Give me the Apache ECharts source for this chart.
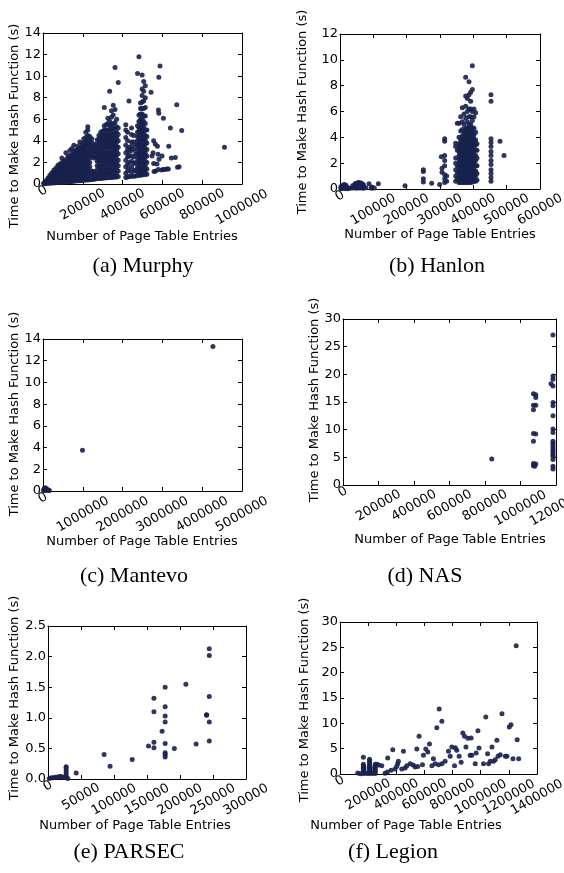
<!DOCTYPE html>
<html>
<head>
<meta charset="utf-8">
<script src="https://cdn.jsdelivr.net/npm/echarts@6/dist/echarts.min.js"></script>
<style>
  html, body { margin: 0; background: #fff; }
  #chart { width: 564px; height: 873px; }
</style>
</head>
<body>
<div id="chart"></div>
<script>
// ---- data, columns are [x, [y, y, ...]] ----
const murphyCols = [
  [5000, [0.02, 0.06, 0.1]],
  [15000, [0.04, 0.12, 0.2, 0.3]],
  [25000, [0.06, 0.16, 0.28, 0.42, 0.55]],
  [35000, [0.08, 0.2, 0.35, 0.5, 0.66, 0.8]],
  [45000, [0.1, 0.24, 0.42, 0.6, 0.76, 0.95, 1.05]],
  [55000, [0.1, 0.28, 0.5, 0.7, 0.9, 1.1, 1.3]],
  [65000, [0.12, 0.32, 0.55, 0.8, 1.0, 1.22, 1.45]],
  [75000, [0.13, 0.36, 0.6, 0.85, 1.1, 1.35, 1.58, 1.75]],
  [85000, [0.14, 0.4, 0.65, 0.9, 1.15, 1.4, 1.65, 1.85]],
  [95000, [0.15, 0.42, 0.7, 0.95, 1.22, 1.5, 1.75, 2.0, 2.4]],
  [105000, [0.17, 0.45, 0.72, 1.0, 1.3, 1.6, 1.9, 2.15]],
  [115000, [0.19, 0.47, 0.76, 1.05, 1.35, 1.65, 1.95, 2.25, 2.9]],
  [125000, [0.2, 0.5, 0.8, 1.1, 1.4, 1.7, 2.0, 2.3, 2.55]],
  [135000, [0.22, 0.52, 0.84, 1.15, 1.46, 1.76, 2.06, 2.36, 2.65, 3.1]],
  [145000, [0.24, 0.55, 0.86, 1.2, 1.5, 1.82, 2.12, 2.42, 2.72, 3.3]],
  [155000, [0.25, 0.57, 0.9, 1.22, 1.55, 1.86, 2.16, 2.46, 2.78, 3.02, 3.6]],
  [165000, [0.27, 0.6, 0.92, 1.26, 1.6, 1.9, 2.22, 2.52, 2.82, 3.12]],
  [175000, [0.29, 0.62, 0.96, 1.3, 1.62, 1.95, 2.28, 2.6, 2.9, 3.2, 3.5]],
  [185000, [0.3, 0.65, 1.0, 1.32, 1.66, 2.0, 2.34, 2.68, 3.0, 3.3, 3.9]],
  [195000, [0.32, 0.66, 1.02, 1.36, 1.7, 2.05, 2.4, 2.74, 3.08, 3.4, 3.7]],
  [205000, [0.34, 0.7, 1.05, 1.4, 1.76, 2.1, 2.46, 2.8, 3.15, 3.5, 3.82, 4.2]],
  [215000, [0.36, 0.72, 1.08, 1.44, 1.8, 2.16, 2.52, 2.9, 3.25, 3.6, 3.95, 4.3, 4.8]],
  [225000, [0.38, 0.75, 1.12, 1.5, 1.86, 2.22, 2.6, 2.98, 3.35, 3.72, 4.1, 4.5, 5.0, 5.3]],
  [235000, [0.4, 0.8, 1.2, 1.6, 2.0, 2.4, 2.8, 3.2, 3.6, 4.0, 4.4]],
  [245000, [0.42, 0.82, 1.2, 2.6, 3.0, 3.4, 3.8, 4.2]],
  [255000, [0.45, 0.85, 1.15, 2.4, 2.8, 3.25, 3.7]],
  [263000, [0.47, 0.9, 2.5, 3.0, 3.5]],
  [272000, [0.5, 0.9, 1.3, 1.7, 2.1, 2.5, 2.9, 3.3, 3.7, 4.1]],
  [281000, [0.5, 0.9, 1.3, 1.7, 2.1, 2.5, 2.9, 3.3, 3.7, 4.1, 4.5]],
  [290000, [0.52, 0.88, 1.25, 1.62, 2.0, 2.4, 2.8, 3.2, 3.6, 4.0, 4.4, 4.8]],
  [299000, [0.54, 0.92, 1.3, 1.7, 2.1, 2.5, 2.9, 3.3, 3.7, 4.1, 4.5, 4.9]],
  [308000, [0.55, 0.95, 1.35, 1.75, 2.15, 2.55, 2.95, 3.35, 3.75, 4.15, 4.55, 5.0, 5.4, 7.1]],
  [317000, [0.57, 0.98, 1.4, 1.8, 2.2, 2.6, 3.0, 3.4, 3.8, 4.2, 4.6, 5.0, 5.5]],
  [326000, [0.58, 1.0, 1.4, 1.8, 2.2, 2.6, 3.0, 3.4, 3.8, 4.2, 4.6, 5.0, 5.6, 6.1]],
  [335000, [0.6, 1.0, 1.4, 1.8, 2.2, 2.6, 3.0, 3.4, 3.8, 4.2, 4.6, 5.0, 5.4, 5.8, 8.6]],
  [344000, [0.6, 1.0, 1.4, 1.8, 2.2, 2.6, 3.0, 3.4, 3.8, 4.2, 4.6, 5.0, 5.4, 6.2, 6.8]],
  [353000, [0.62, 1.02, 1.42, 1.82, 2.22, 2.62, 3.02, 3.42, 3.82, 4.22, 4.62, 5.1, 5.6, 6.4, 7.3]],
  [362000, [0.64, 1.05, 1.45, 1.85, 2.25, 2.65, 3.05, 3.45, 3.85, 4.25, 4.7, 5.2, 5.7, 6.9, 10.8]],
  [370000, [0.66, 1.1, 1.5, 1.9, 2.3, 2.7, 3.1, 3.5, 3.9, 4.3, 4.8, 5.3, 6.0]],
  [378000, [0.7, 1.2, 1.7, 2.2, 2.8, 3.4, 4.0, 4.6, 5.2, 9.4]],
  [416000, [0.6, 1.0, 1.6, 2.2, 2.9, 3.6, 4.3, 5.0, 5.5]],
  [425000, [0.65, 1.2, 1.8, 2.5, 3.2, 4.0, 4.8]],
  [432000, [0.7, 1.4, 2.0, 2.6, 3.0, 3.4, 7.7]],
  [445000, [0.7, 1.1, 1.6, 2.1, 2.6, 3.1, 3.5, 3.9, 4.6, 5.2]],
  [456000, [0.72, 1.3, 1.9, 2.5, 3.2, 3.9, 4.5]],
  [466000, [0.75, 1.2, 2.0, 2.8, 3.6]],
  [475000, [0.8, 1.2, 1.6, 2.0, 2.4, 2.8, 3.2, 3.6, 4.0, 4.4, 4.8, 5.4, 10.25]],
  [482000, [0.8, 1.2, 1.6, 2.0, 2.4, 2.8, 3.2, 3.6, 4.0, 4.4, 4.8, 5.2, 5.8, 6.4, 11.8]],
  [490000, [0.8, 1.2, 1.6, 2.0, 2.4, 2.8, 3.2, 3.6, 4.0, 4.4, 4.8, 5.2, 5.6, 6.0, 6.5, 7.0, 7.5]],
  [498000, [0.85, 1.25, 1.65, 2.05, 2.45, 2.85, 3.25, 3.65, 4.05, 4.45, 4.85, 5.25, 5.65, 6.05, 6.5, 7.0, 7.6, 8.2, 8.8, 10.1]],
  [506000, [0.85, 1.25, 1.65, 2.05, 2.45, 2.85, 3.25, 3.65, 4.05, 4.45, 4.85, 5.3, 5.8, 6.3, 7.0, 7.7, 8.6, 9.5]],
  [514000, [0.9, 1.3, 1.7, 2.1, 2.5, 2.9, 3.3, 3.7, 4.1, 4.5, 5.0, 5.6, 6.3, 7.1, 8.0, 9.1]],
  [522000, [0.9, 1.4, 2.0, 2.6, 3.2, 3.8, 4.4, 5.0]],
  [543000, [8.5]], [548000, [2.6]], [553000, [2.9]], [556000, [1.9, 4.0]],
  [558000, [1.15]], [564000, [3.7]], [566000, [1.2]], [573000, [1.85]],
  [575000, [3.5]], [578000, [2.75]], [580000, [1.35, 6.85]], [582000, [6.55, 9.9]],
  [583000, [2.3]], [588000, [10.95]], [597000, [1.3]], [598000, [2.6]],
  [604000, [1.35]], [605000, [6.1]], [612000, [1.35]], [622000, [1.4]],
  [630000, [1.4]], [632000, [3.5]], [640000, [5.2]], [645000, [2.4]],
  [665000, [2.45]], [672000, [7.35]], [676000, [1.55]], [684000, [1.6]],
  [697000, [4.95]], [912000, [3.4]]
];

const hanlonCols = [
  [3000, [0.02, 0.1, 0.2]], [8000, [0.05, 0.15, 0.3]], [13000, [0.03, 0.12, 0.25, 0.35]],
  [18000, [0.05, 0.2, 0.3]], [23000, [0.02, 0.1]], [30000, [0.05]], [38000, [0.08, 0.25]],
  [45000, [0.1, 0.3, 0.4]], [50000, [0.05, 0.2, 0.35, 0.45]], [55000, [0.1, 0.25, 0.4, 0.5]],
  [60000, [0.08, 0.2, 0.35, 0.48]], [65000, [0.1, 0.3, 0.45]], [70000, [0.05, 0.2, 0.35]],
  [78000, [0.1]], [87000, [0.4]], [95000, [0.05, 0.15]], [103000, [0.08]], [115000, [0.4]],
  [195000, [0.25]],
  [250000, [0.55, 0.8, 1.35, 1.5]], [275000, [0.45]], [299000, [0.35]], [304000, [2.5]],
  [306000, [1.3, 1.6]], [314000, [0.5, 0.8, 1.1, 1.8, 2.2, 2.6, 3.7, 3.9]], [320000, [0.6, 1.0]],
  [347000, [0.6, 1.0, 1.5, 2.0, 2.4, 3.3, 3.55]], [352000, [0.8, 1.3, 1.8, 3.0, 5.1]],
  [357000, [0.5, 0.8, 1.1, 1.4, 1.7, 2.0, 2.3, 2.6, 2.9, 3.2, 3.5, 4.0, 5.1]],
  [362000, [0.5, 0.8, 1.1, 1.4, 1.7, 2.0, 2.3, 2.6, 2.9, 3.2, 3.5, 3.8, 4.5, 5.6]],
  [367000, [0.5, 0.8, 1.1, 1.4, 1.7, 2.0, 2.3, 2.6, 2.9, 3.2, 3.5, 3.8, 4.1, 4.6, 5.2, 6.3]],
  [372000, [0.5, 0.8, 1.1, 1.4, 1.7, 2.0, 2.3, 2.6, 2.9, 3.2, 3.5, 3.8, 4.1, 4.4, 5.0, 5.8]],
  [377000, [0.5, 0.8, 1.1, 1.4, 1.7, 2.0, 2.3, 2.6, 2.9, 3.2, 3.5, 3.8, 4.1, 4.4, 4.7, 5.5, 6.4, 7.2, 8.65]],
  [382000, [0.5, 0.8, 1.1, 1.4, 1.7, 2.0, 2.3, 2.6, 2.9, 3.2, 3.5, 3.8, 4.1, 4.4, 4.7, 5.2, 6.0, 7.0]],
  [387000, [0.5, 0.8, 1.1, 1.4, 1.7, 2.0, 2.3, 2.6, 2.9, 3.2, 3.5, 3.8, 4.1, 4.4, 4.7, 5.0, 5.6, 6.2, 7.3, 8.3]],
  [392000, [0.5, 0.8, 1.1, 1.4, 1.7, 2.0, 2.3, 2.6, 2.9, 3.2, 3.5, 3.8, 4.1, 4.4, 4.7, 5.0, 5.6, 6.2, 6.8, 7.5]],
  [397000, [0.55, 0.85, 1.15, 1.45, 1.75, 2.05, 2.35, 2.65, 2.95, 3.25, 3.55, 3.85, 4.15, 4.45, 4.75, 5.3, 6.0, 7.7, 9.55]],
  [402000, [0.6, 0.9, 1.2, 1.5, 1.8, 2.1, 2.4, 2.7, 3.0, 3.3, 3.6, 3.9, 4.2, 4.7, 5.6, 6.2]],
  [407000, [0.6, 1.0, 1.4, 1.8, 2.2, 2.6, 3.0, 3.4, 3.8, 4.4, 5.9]],
  [411000, [0.7, 1.2, 1.8, 2.4, 3.0, 3.5]],
  [453000, [0.6, 0.9, 1.2, 1.5, 1.9, 2.2, 2.6, 2.9, 3.3, 3.6, 3.9, 6.8, 7.3]],
  [480000, [3.7]], [492000, [2.6]]
];

const mantevoCols = [
  [15000, [0.05]], [25000, [0.15]], [35000, [0.25, 0.05]], [45000, [0.2]], [55000, [0.12, 0.3]],
  [65000, [0.18]], [80000, [0.1, 0.22]], [100000, [0.06]], [120000, [0.12]], [140000, [0.08]],
  [160000, [0.04]], [992000, [3.75]], [4270000, [13.3]]
];

const nasCols = [
  [838000, [4.7]],
  [1073000, [16.5, 14.4, 13.6, 9.3, 7.9, 3.9, 3.5]],
  [1080000, [3.4]],
  [1086000, [16.3, 15.8, 14.4, 9.2, 3.8]],
  [1172000, [18.3]],
  [1183000, [27.1, 19.7, 19.1, 17.9, 14.9, 14.3, 12.5, 10.1, 9.5, 7.9, 7.5, 7.1, 6.7, 6.3, 5.9, 5.5, 5.2, 4.6, 3.4, 2.9]]
];

const parsecCols = [
  [2000, [0.01]], [5000, [0.02]], [8000, [0.02]], [11000, [0.03]], [14000, [0.03]],
  [17000, [0.04]], [20000, [0.04]], [23000, [0.03]], [27500, [0.02, 0.06, 0.1, 0.14, 0.18, 0.2]],
  [30000, [0.01]], [42700, [0.1]], [85000, [0.4]], [94000, [0.21]], [127600, [0.32]],
  [152300, [0.54]], [160500, [1.32, 1.1, 0.6, 0.51]], [172900, [0.78]],
  [177500, [1.5, 1.18, 1.03, 0.93, 0.58, 0.43, 0.4, 0.36]], [191400, [0.5]],
  [208900, [1.55]], [224400, [0.57]], [240300, [1.04, 1.05]],
  [244400, [2.13, 2.02, 1.35, 0.93, 0.62]]
];

const legionCols = [
  [126000, [0.2]], [145000, [0.05]],
  [166000, [0.1, 0.4, 0.7, 1.0, 1.3, 1.6, 1.9, 3.3]], [170000, [0.2, 0.6, 1.0, 1.4]],
  [190000, [0.1]],
  [210000, [0.1, 0.4, 0.7, 1.0, 1.3, 1.6, 1.9, 2.2, 2.6, 2.9]], [215000, [0.3, 0.8, 1.3]],
  [230000, [0.1]], [250000, [0.1, 0.4, 0.7, 1.0, 1.3, 1.6, 1.9]],
  [262000, [1.9]], [275000, [1.8]], [297000, [1.64]], [320000, [0.15]],
  [337000, [0.4]], [339000, [3.16]], [363000, [0.72]], [375000, [4.8]], [391000, [0.99]],
  [403000, [1.5]], [410000, [2.04]], [415000, [2.5]], [439000, [0.99]], [451000, [4.47]],
  [463000, [1.18]], [475000, [1.64]], [498000, [2.04]], [520000, [1.8]], [534000, [1.38]],
  [546000, [4.93]], [552000, [1.5]], [562000, [7.43]], [586000, [1.84]], [593000, [3.68]],
  [610000, [4.93]], [624000, [4.34]], [636000, [5.92]], [653000, [1.64]], [664000, [3.03]],
  [676000, [2.04]], [688000, [9.14]], [700000, [1.84]], [705000, [12.83]], [724000, [10.4, 2.04]],
  [747000, [2.5]], [771000, [4.47]], [783000, [3.49]], [795000, [5.33]], [814000, [1.64]],
  [819000, [5.2]], [830000, [4.67]], [847000, [3.49]], [861000, [2.3]], [873000, [8.1]],
  [885000, [7.43]], [895000, [5.33]], [909000, [7.04]], [925000, [3.68]], [932000, [7.1]],
  [937000, [3.68]], [961000, [2.04]], [968000, [4.14]], [980000, [8.55]], [988000, [5.13]],
  [1020000, [2.04]], [1036000, [11.25]], [1049000, [4.0]], [1056000, [2.04]], [1068000, [2.5]],
  [1080000, [5.33]], [1091000, [2.5]], [1103000, [2.83]], [1115000, [6.65]], [1123000, [3.49]],
  [1139000, [3.82]], [1151000, [11.9]], [1175000, [3.49]], [1186000, [3.49]], [1203000, [9.27]],
  [1215000, [9.73]], [1229000, [3.03]], [1252000, [25.3]], [1259000, [6.78]], [1270000, [3.03]]
];

const captions = ['(a) Murphy', '(b) Hanlon', '(c) Mantevo', '(d) NAS', '(e) PARSEC', '(f) Legion'];
const xTitle = 'Number of Page Table Entries';
const yTitle = 'Time to Make Hash Function (s)';

// ---- layout ----
const FONT = 'DejaVu Sans';
const FS = 13;
const DOT = '#18214c';
const panels = [
  { cols: murphyCols, grid: [43, 33, 199, 151], x: [1000000, 200000], y: [14, 2], yName: [15, 126], xName: [142, 237], cap: [143, 266] },
  { cols: hanlonCols, grid: [340, 34, 200, 155], x: [600000, 100000], y: [12, 2], yName: [303, 112], xName: [440, 235], cap: [437, 266] },
  { cols: mantevoCols, grid: [43, 339, 199, 152], x: [5000000, 1000000], y: [14, 2], yName: [15, 414], xName: [142, 542], cap: [134, 576] },
  { cols: nasCols, grid: [343, 319, 213, 166], x: [1200000, 200000], y: [30, 5], yName: [315, 400], xName: [450, 540], cap: [425, 576] },
  { cols: parsecCols, grid: [48, 626, 198, 153], x: [300000, 50000], y: [2.5, 0.5], yDec: 1, yName: [15, 698], xName: [135, 826], cap: [129, 852] },
  { cols: legionCols, grid: [340, 622, 197, 152], x: [1400000, 200000], y: [30, 5], yName: [305, 700], xName: [406, 826], cap: [393, 852] }
];

// rotated x labels are centred on their tick like matplotlib: longer labels get pushed down
const CHAR_W = 8.27;
const xRich = {};
for (let n = 1; n <= 8; n++) {
  const dy = (n - 1) * CHAR_W * 0.33;
  xRich['l' + n] = { fontFamily: FONT, fontSize: FS, color: '#000', padding: [dy * 1.732, dy, 0, 0] };
}

const tick = { show: true, inside: true, length: 4, lineStyle: { color: '#000', width: 1 } };
const line = { show: true, onZero: false, lineStyle: { color: '#000', width: 1 } };

const grid = [], xAxis = [], yAxis = [], series = [], graphic = [];
panels.forEach((p, i) => {
  const [l, t, w, h] = p.grid;
  grid.push({ left: l, top: t, width: w, height: h, outerBoundsMode: 'none', containLabel: false });
  xAxis.push({
    type: 'value', gridIndex: i, min: 0, max: p.x[0], interval: p.x[1], position: 'bottom',
    axisLine: line, axisTick: tick, splitLine: { show: false },
    axisLabel: {
      show: true, rotate: 30, align: 'center', verticalAlign: 'middle', margin: 7,
      showMinLabel: true, showMaxLabel: true, hideOverlap: false,
      formatter: v => { const s = String(v); return '{l' + s.length + '|' + s + '}'; },
      rich: xRich
    }
  });
  xAxis.push({
    type: 'value', gridIndex: i, min: 0, max: p.x[0], interval: p.x[1], position: 'top',
    axisLine: line, axisTick: tick, axisLabel: { show: false }, splitLine: { show: false }
  });
  yAxis.push({
    type: 'value', gridIndex: i, min: 0, max: p.y[0], interval: p.y[1], position: 'left',
    axisLine: line, axisTick: tick, splitLine: { show: false },
    axisLabel: {
      show: true, margin: 2, fontFamily: FONT, fontSize: FS, color: '#000',
      showMinLabel: true, showMaxLabel: true,
      formatter: v => p.yDec ? v.toFixed(p.yDec) : String(v)
    }
  });
  yAxis.push({
    type: 'value', gridIndex: i, min: 0, max: p.y[0], interval: p.y[1], position: 'right',
    axisLine: line, axisTick: tick, axisLabel: { show: false }, splitLine: { show: false }
  });
  series.push({
    type: 'scatter', xAxisIndex: i * 2, yAxisIndex: i * 2,
    symbol: 'circle', symbolSize: 5,
    itemStyle: { color: DOT, opacity: 0.9 },
    data: p.cols.flatMap(([x, ys]) => ys.map(y => [x, y]))
  });
  graphic.push({
    type: 'text', x: p.yName[0], y: p.yName[1], rotation: Math.PI / 2,
    style: { text: yTitle, fontFamily: FONT, fontSize: FS, fill: '#000', align: 'center', verticalAlign: 'middle' }
  });
  graphic.push({
    type: 'text', x: p.xName[0], y: p.xName[1],
    style: { text: xTitle, fontFamily: FONT, fontSize: FS, fill: '#000', align: 'center', verticalAlign: 'middle' }
  });
  graphic.push({
    type: 'text', x: p.cap[0], y: p.cap[1],
    style: { text: captions[i], fontFamily: 'Liberation Serif', fontSize: 22, fill: '#000', align: 'center', verticalAlign: 'middle' }
  });
});

const chart = echarts.init(document.getElementById('chart'), null, { renderer: 'canvas', width: 564, height: 873 });
chart.setOption({
  animation: false,
  backgroundColor: '#fff',
  grid, xAxis, yAxis, series, graphic
});
</script>
</body>
</html>
